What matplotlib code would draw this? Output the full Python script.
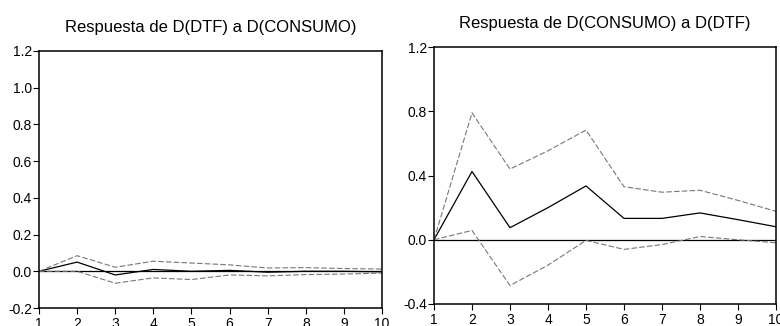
import matplotlib
matplotlib.use("Agg")
import matplotlib.pyplot as plt

plt.rcParams['font.family'] = ['Liberation Sans', 'DejaVu Sans']

periods = [1, 2, 3, 4, 5, 6, 7, 8, 9, 10]

# Respuesta de D(DTF) a D(CONSUMO)
dtf_resp = [0.0, 0.05, -0.02, 0.01, 0.0, 0.005, -0.005, 0.0, 0.0, -0.003]
dtf_upper = [0.0, 0.085, 0.022, 0.055, 0.045, 0.035, 0.018, 0.02, 0.015, 0.012]
dtf_lower = [0.0, 0.0, -0.065, -0.036, -0.045, -0.02, -0.025, -0.018, -0.015, -0.01]

# Respuesta de D(CONSUMO) a D(DTF)
cons_resp = [0.0, 0.425, 0.075, 0.2, 0.335, 0.133, 0.133, 0.167, 0.125, 0.081]
cons_upper = [0.0, 0.79, 0.44, 0.554, 0.683, 0.33, 0.296, 0.308, 0.245, 0.177]
cons_lower = [0.0, 0.058, -0.285, -0.158, -0.004, -0.06, -0.03, 0.02, 0.0, -0.019]

fig = plt.figure(figsize=(7.8, 3.26), dpi=100)
ax1 = fig.add_axes([0.05, 0.0552, 0.4397, 0.7884])
ax2 = fig.add_axes([0.5564, 0.0675, 0.4385, 0.7883])


def draw(ax, resp, upper, lower, title, yticks, ylim):
    ax.axhline(0, color='black', lw=0.9)
    ax.plot(periods, resp, color='black', lw=0.9)
    ax.plot(periods, upper, color='#777777', lw=0.8, ls=(0, (5, 2)))
    ax.plot(periods, lower, color='#777777', lw=0.8, ls=(0, (5, 2)))
    ax.set_xlim(1, 10)
    ax.set_ylim(*ylim)
    ax.set_xticks(periods)
    ax.set_yticks(yticks)
    ax.set_yticklabels([f"{v:.1f}" for v in yticks])
    ax.tick_params(direction='out', length=4, width=0.8, labelsize=10)
    ax.tick_params(axis='x', pad=2.5)
    ax.tick_params(axis='y', pad=1)
    for s in ax.spines.values():
        s.set_linewidth(1.1)
    ax.set_title(title, fontsize=12, pad=14)


draw(ax1, dtf_resp, dtf_upper, dtf_lower, "Respuesta de D(DTF) a D(CONSUMO)",
     [-0.2, 0.0, 0.2, 0.4, 0.6, 0.8, 1.0, 1.2], (-0.2, 1.2))
draw(ax2, cons_resp, cons_upper, cons_lower, "Respuesta de D(CONSUMO) a D(DTF)",
     [-0.4, 0.0, 0.4, 0.8, 1.2], (-0.4, 1.2))

fig.savefig("out.png", dpi=100)
